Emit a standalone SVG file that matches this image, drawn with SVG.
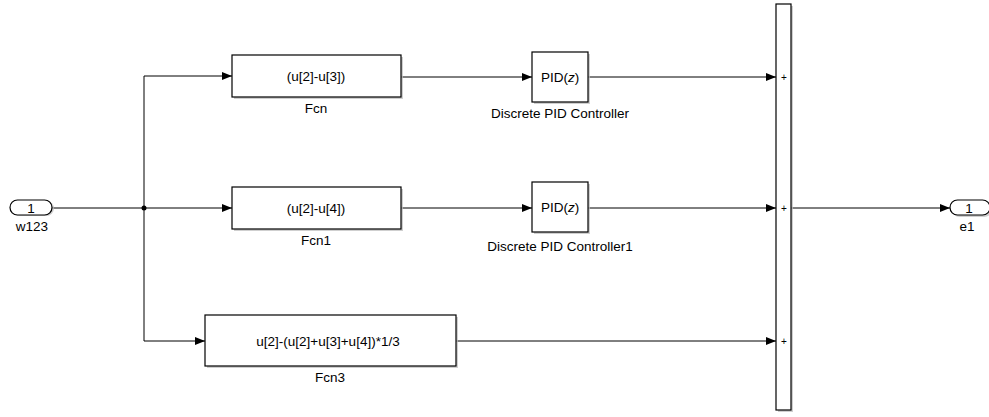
<svg xmlns="http://www.w3.org/2000/svg" width="989" height="417" viewBox="0 0 989 417">
<style>
.blk{fill:#fff;stroke:#000;stroke-width:1.2}
.sh{fill:#bbb;stroke:none;opacity:0.7}
.ln{fill:none;stroke:#000;stroke-width:1}
.t{font-family:"Liberation Sans",Arial,sans-serif;font-size:13.5px;fill:#000;text-anchor:middle}
.tb{font-family:"Liberation Sans",Arial,sans-serif;font-size:13.5px;fill:#000;text-anchor:middle}
.p{font-family:"Liberation Sans",Arial,sans-serif;font-size:10px;fill:#000;text-anchor:middle}
</style>
<defs>
<marker id="ar" markerWidth="10" markerHeight="8" refX="10" refY="4" orient="auto" markerUnits="userSpaceOnUse">
<path d="M0,0 L10,4 L0,8 Z" fill="#000"/>
</marker>
</defs>
<rect width="989" height="417" fill="#fff"/>
<g id="connectors">
<line class="ln" x1="52" y1="208" x2="144" y2="208"/>
<polyline class="ln" points="144,76 144,341"/>
<line class="ln" x1="144" y1="76" x2="232" y2="76" marker-end="url(#ar)"/>
<line class="ln" x1="144" y1="208" x2="232" y2="208" marker-end="url(#ar)"/>
<line class="ln" x1="144" y1="341" x2="205" y2="341" marker-end="url(#ar)"/>
<line class="ln" x1="401" y1="77" x2="532" y2="77" marker-end="url(#ar)"/>
<line class="ln" x1="401" y1="208" x2="532" y2="208" marker-end="url(#ar)"/>
<line class="ln" x1="588" y1="77" x2="776" y2="77" marker-end="url(#ar)"/>
<line class="ln" x1="588" y1="208" x2="776" y2="208" marker-end="url(#ar)"/>
<line class="ln" x1="456" y1="341" x2="776" y2="341" marker-end="url(#ar)"/>
<line class="ln" x1="791" y1="208" x2="950" y2="208" marker-end="url(#ar)"/>
<circle cx="144" cy="208" r="2.5" fill="#000"/>
</g>
<g id="w123">
<rect class="sh" x="12" y="201" width="42" height="15" rx="7.5"/>
<rect class="blk" x="10" y="200" width="42" height="15" rx="7.5"/>
<text class="t" x="31" y="212.5">1</text>
<text class="t" x="32" y="231">w123</text>
</g>
<g id="Fcn">
<rect class="sh" x="234" y="57" width="169" height="42"/>
<rect class="blk" x="232" y="55" width="169" height="42"/>
<text class="tb" x="316" y="81">(u[2]-u[3])</text>
<text class="t" x="316" y="113">Fcn</text>
</g>
<g id="Fcn1">
<rect class="sh" x="234" y="189" width="169" height="42"/>
<rect class="blk" x="232" y="187" width="169" height="42"/>
<text class="tb" x="316" y="213">(u[2]-u[4])</text>
<text class="t" x="316" y="245">Fcn1</text>
</g>
<g id="Fcn3">
<rect class="sh" x="207" y="317" width="251" height="51"/>
<rect class="blk" x="205" y="315" width="251" height="51"/>
<text class="tb" x="328" y="346">u[2]-(u[2]+u[3]+u[4])*1/3</text>
<text class="t" x="330" y="382">Fcn3</text>
</g>
<g id="PID">
<rect class="sh" x="534" y="54" width="56" height="50"/>
<rect class="blk" x="532" y="52" width="56" height="50"/>
<text class="tb" x="560" y="82">PID(<tspan font-style="italic">z</tspan>)</text>
<text class="t" x="560" y="118">Discrete PID Controller</text>
</g>
<g id="PID1">
<rect class="sh" x="534" y="184" width="56" height="50"/>
<rect class="blk" x="532" y="182" width="56" height="50"/>
<text class="tb" x="560" y="212">PID(<tspan font-style="italic">z</tspan>)</text>
<text class="t" x="560" y="251">Discrete PID Controller1</text>
</g>
<g id="Sum">
<rect class="sh" x="778" y="6" width="15" height="406"/>
<rect class="blk" x="776" y="4" width="15" height="406"/>
<text class="p" x="784" y="80.5">+</text>
<text class="p" x="784" y="211.5">+</text>
<text class="p" x="784" y="344.5">+</text>
</g>
<g id="e1">
<rect class="sh" x="952" y="202" width="40" height="15" rx="7.5"/>
<rect class="blk" x="950" y="200" width="40" height="15" rx="7.5"/>
<text class="t" x="969" y="212.5">1</text>
<text class="t" x="967" y="231">e1</text>
</g>
</svg>
